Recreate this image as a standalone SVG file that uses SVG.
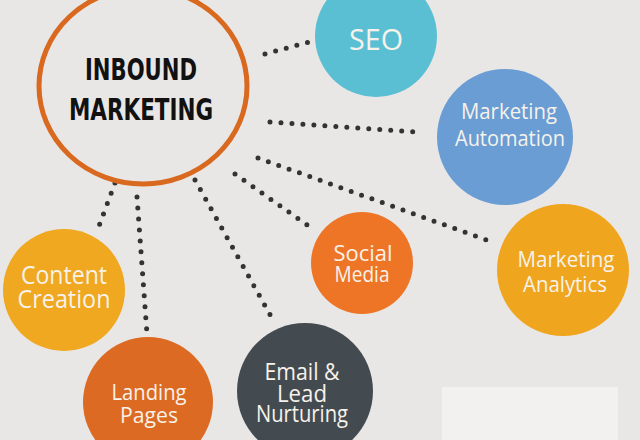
<svg xmlns="http://www.w3.org/2000/svg" width="640" height="440" viewBox="0 0 640 440">
<style>
.lbl{font-family:"Open Sans","Liberation Sans",sans-serif;fill:#F7F2EA;text-anchor:middle}
.main{font-family:"Liberation Sans Narrow","DejaVu Sans Condensed","Liberation Sans",sans-serif;font-weight:bold;fill:#111;text-anchor:middle}
.dots{fill:none;stroke:#333;stroke-width:5;stroke-linecap:round;stroke-dasharray:0 11}
</style>
<rect width="640" height="440" fill="#E9E6E6"/>
<rect x="442" y="387" width="176" height="53" fill="#F2F1F0"/>
<g id="connectors">
<line class="dots" x1="265" y1="54" x2="309" y2="42"/>
<line class="dots" x1="270" y1="122" x2="417" y2="132"/>
<line class="dots" x1="258" y1="158" x2="495" y2="243"/>
<line class="dots" x1="235" y1="174" x2="310" y2="227"/>
<line class="dots" x1="195" y1="180" x2="273" y2="320"/>
<line class="dots" x1="137" y1="197" x2="147" y2="334"/>
<line class="dots" x1="115" y1="183" x2="99" y2="226"/>
</g>
<g id="inbound">
<ellipse cx="143" cy="86" rx="104" ry="98" fill="none" stroke="#D8691F" stroke-width="5"/>
<text class="main" x="141" y="80" font-size="31" textLength="112" lengthAdjust="spacingAndGlyphs">INBOUND</text>
<text class="main" x="141" y="120" font-size="31" textLength="144" lengthAdjust="spacingAndGlyphs">MARKETING</text>
</g>
<g id="seo">
<circle cx="376" cy="36" r="61" fill="#5BBFD4"/>
<text class="lbl" x="376" y="50" font-size="30" textLength="54" lengthAdjust="spacingAndGlyphs">SEO</text>
</g>
<g id="automation">
<circle cx="505" cy="137" r="68" fill="#6A9DD3"/>
<text class="lbl" x="509" y="119" font-size="21" textLength="96" lengthAdjust="spacingAndGlyphs">Marketing</text>
<text class="lbl" x="510" y="146" font-size="21" textLength="110" lengthAdjust="spacingAndGlyphs">Automation</text>
</g>
<g id="analytics">
<circle cx="563" cy="270" r="66" fill="#EFA51D"/>
<text class="lbl" x="566" y="267" font-size="22" textLength="97" lengthAdjust="spacingAndGlyphs">Marketing</text>
<text class="lbl" x="565" y="292" font-size="22" textLength="84" lengthAdjust="spacingAndGlyphs">Analytics</text>
</g>
<g id="social">
<circle cx="362" cy="263" r="51" fill="#EE7526"/>
<text class="lbl" x="363" y="261" font-size="22" textLength="59" lengthAdjust="spacingAndGlyphs">Social</text>
<text class="lbl" x="362" y="282" font-size="22" textLength="55" lengthAdjust="spacingAndGlyphs">Media</text>
</g>
<g id="email">
<circle cx="305" cy="391" r="68" fill="#434B51"/>
<text class="lbl" x="302" y="380" font-size="23" textLength="75" lengthAdjust="spacingAndGlyphs">Email &amp;</text>
<text class="lbl" x="302" y="402" font-size="23" textLength="50" lengthAdjust="spacingAndGlyphs">Lead</text>
<text class="lbl" x="302" y="422" font-size="23" textLength="92" lengthAdjust="spacingAndGlyphs">Nurturing</text>
</g>
<g id="landing">
<circle cx="148" cy="402" r="65" fill="#DD6A22"/>
<text class="lbl" x="149" y="400" font-size="22" textLength="75" lengthAdjust="spacingAndGlyphs">Landing</text>
<text class="lbl" x="149" y="423" font-size="22" textLength="58" lengthAdjust="spacingAndGlyphs">Pages</text>
</g>
<g id="content">
<circle cx="64" cy="290" r="61" fill="#EFA81F"/>
<text class="lbl" x="64" y="284" font-size="25" textLength="86" lengthAdjust="spacingAndGlyphs">Content</text>
<text class="lbl" x="64" y="308" font-size="25" textLength="93" lengthAdjust="spacingAndGlyphs">Creation</text>
</g>
</svg>
